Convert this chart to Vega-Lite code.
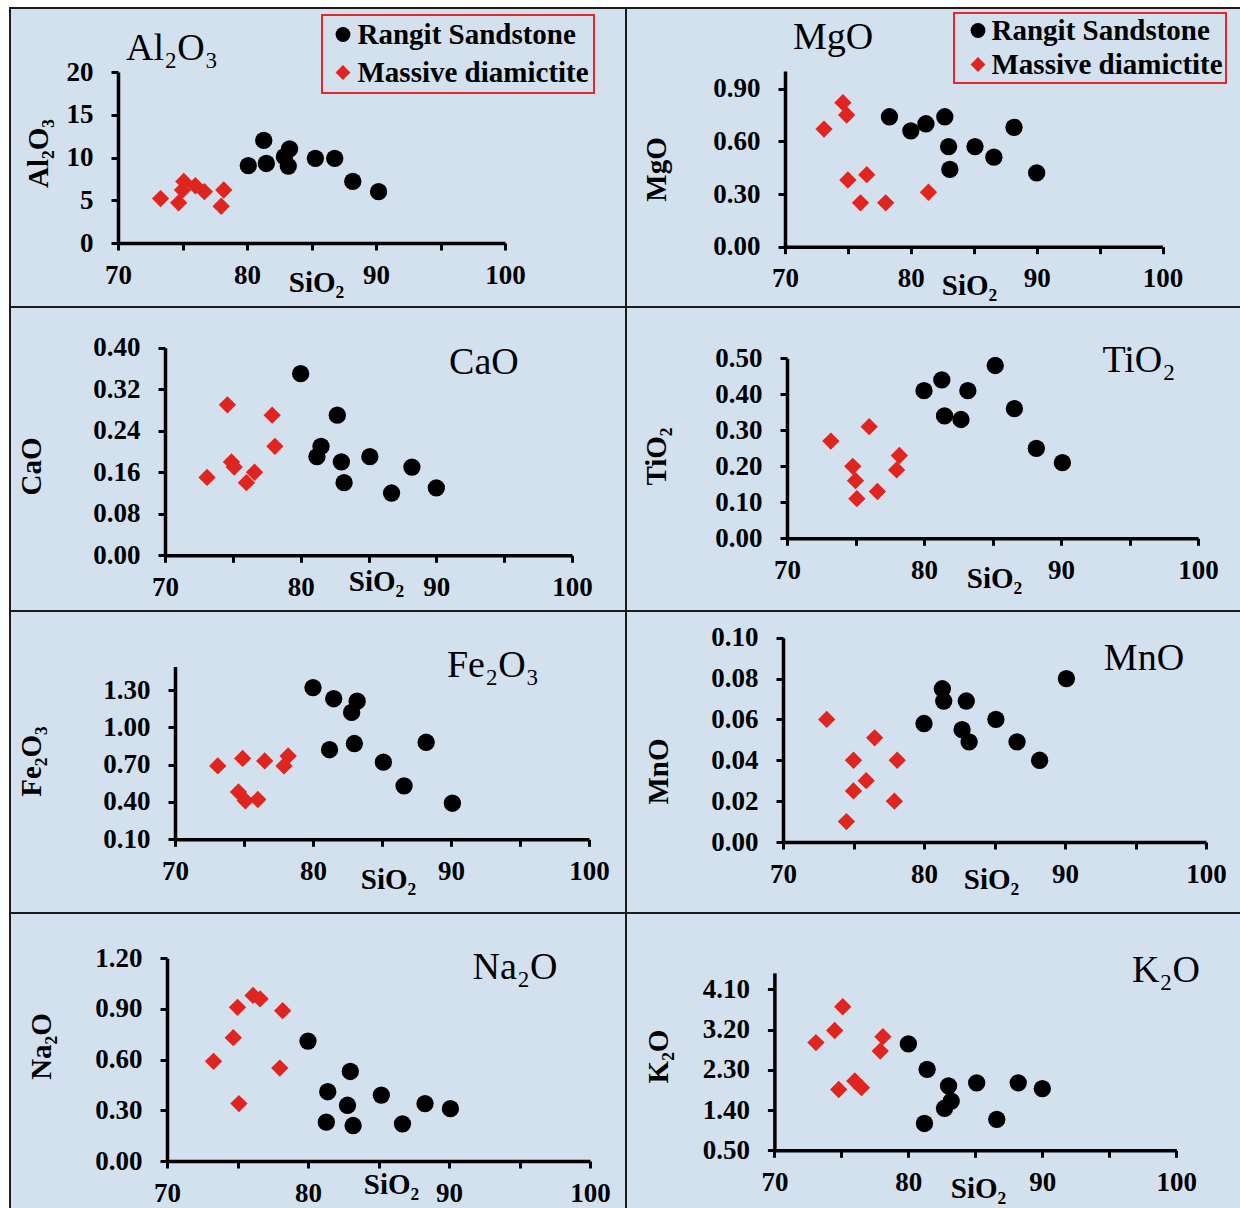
{
  "$schema": "https://vega.github.io/schema/vega-lite/v6.json",
  "background": "white",
  "padding": {"left": 9, "top": 7, "right": 0, "bottom": 0},
  "columns": 2,
  "spacing": 0,
  "bounds": "flush",
  "align": "each",
  "datasets": {
    "geo": [
      {"oxide": "Al2O3", "rock": "Rangit Sandstone", "SiO2": 80.1, "value": 9.05},
      {"oxide": "Al2O3", "rock": "Rangit Sandstone", "SiO2": 81.3, "value": 12.0},
      {"oxide": "Al2O3", "rock": "Rangit Sandstone", "SiO2": 81.5, "value": 9.3},
      {"oxide": "Al2O3", "rock": "Rangit Sandstone", "SiO2": 82.9, "value": 10.1},
      {"oxide": "Al2O3", "rock": "Rangit Sandstone", "SiO2": 83.3, "value": 11.0},
      {"oxide": "Al2O3", "rock": "Rangit Sandstone", "SiO2": 83.2, "value": 9.0},
      {"oxide": "Al2O3", "rock": "Rangit Sandstone", "SiO2": 85.3, "value": 9.9},
      {"oxide": "Al2O3", "rock": "Rangit Sandstone", "SiO2": 86.8, "value": 9.9},
      {"oxide": "Al2O3", "rock": "Rangit Sandstone", "SiO2": 88.2, "value": 7.2},
      {"oxide": "Al2O3", "rock": "Rangit Sandstone", "SiO2": 90.2, "value": 6.0},
      {"oxide": "Al2O3", "rock": "Massive diamictite", "SiO2": 73.3, "value": 5.2},
      {"oxide": "Al2O3", "rock": "Massive diamictite", "SiO2": 74.7, "value": 4.7},
      {"oxide": "Al2O3", "rock": "Massive diamictite", "SiO2": 75.0, "value": 6.2},
      {"oxide": "Al2O3", "rock": "Massive diamictite", "SiO2": 75.1, "value": 7.2},
      {"oxide": "Al2O3", "rock": "Massive diamictite", "SiO2": 76.0, "value": 6.7},
      {"oxide": "Al2O3", "rock": "Massive diamictite", "SiO2": 76.7, "value": 6.0},
      {"oxide": "Al2O3", "rock": "Massive diamictite", "SiO2": 78.0, "value": 4.3},
      {"oxide": "Al2O3", "rock": "Massive diamictite", "SiO2": 78.2, "value": 6.2},

      {"oxide": "MgO", "rock": "Rangit Sandstone", "SiO2": 78.3, "value": 0.74},
      {"oxide": "MgO", "rock": "Rangit Sandstone", "SiO2": 80.0, "value": 0.66},
      {"oxide": "MgO", "rock": "Rangit Sandstone", "SiO2": 81.2, "value": 0.70},
      {"oxide": "MgO", "rock": "Rangit Sandstone", "SiO2": 82.7, "value": 0.74},
      {"oxide": "MgO", "rock": "Rangit Sandstone", "SiO2": 83.0, "value": 0.57},
      {"oxide": "MgO", "rock": "Rangit Sandstone", "SiO2": 83.1, "value": 0.44},
      {"oxide": "MgO", "rock": "Rangit Sandstone", "SiO2": 85.1, "value": 0.57},
      {"oxide": "MgO", "rock": "Rangit Sandstone", "SiO2": 86.6, "value": 0.51},
      {"oxide": "MgO", "rock": "Rangit Sandstone", "SiO2": 88.2, "value": 0.68},
      {"oxide": "MgO", "rock": "Rangit Sandstone", "SiO2": 90.0, "value": 0.42},
      {"oxide": "MgO", "rock": "Massive diamictite", "SiO2": 73.1, "value": 0.67},
      {"oxide": "MgO", "rock": "Massive diamictite", "SiO2": 74.6, "value": 0.82},
      {"oxide": "MgO", "rock": "Massive diamictite", "SiO2": 74.9, "value": 0.75},
      {"oxide": "MgO", "rock": "Massive diamictite", "SiO2": 75.0, "value": 0.38},
      {"oxide": "MgO", "rock": "Massive diamictite", "SiO2": 76.0, "value": 0.25},
      {"oxide": "MgO", "rock": "Massive diamictite", "SiO2": 76.5, "value": 0.41},
      {"oxide": "MgO", "rock": "Massive diamictite", "SiO2": 78.0, "value": 0.25},
      {"oxide": "MgO", "rock": "Massive diamictite", "SiO2": 81.4, "value": 0.31},

      {"oxide": "CaO", "rock": "Rangit Sandstone", "SiO2": 80.0, "value": 0.35},
      {"oxide": "CaO", "rock": "Rangit Sandstone", "SiO2": 81.5, "value": 0.21},
      {"oxide": "CaO", "rock": "Rangit Sandstone", "SiO2": 81.2, "value": 0.19},
      {"oxide": "CaO", "rock": "Rangit Sandstone", "SiO2": 82.7, "value": 0.27},
      {"oxide": "CaO", "rock": "Rangit Sandstone", "SiO2": 83.0, "value": 0.18},
      {"oxide": "CaO", "rock": "Rangit Sandstone", "SiO2": 83.2, "value": 0.14},
      {"oxide": "CaO", "rock": "Rangit Sandstone", "SiO2": 85.1, "value": 0.19},
      {"oxide": "CaO", "rock": "Rangit Sandstone", "SiO2": 86.7, "value": 0.12},
      {"oxide": "CaO", "rock": "Rangit Sandstone", "SiO2": 88.2, "value": 0.17},
      {"oxide": "CaO", "rock": "Rangit Sandstone", "SiO2": 90.0, "value": 0.13},
      {"oxide": "CaO", "rock": "Massive diamictite", "SiO2": 73.1, "value": 0.15},
      {"oxide": "CaO", "rock": "Massive diamictite", "SiO2": 74.6, "value": 0.29},
      {"oxide": "CaO", "rock": "Massive diamictite", "SiO2": 74.9, "value": 0.18},
      {"oxide": "CaO", "rock": "Massive diamictite", "SiO2": 75.1, "value": 0.17},
      {"oxide": "CaO", "rock": "Massive diamictite", "SiO2": 76.0, "value": 0.14},
      {"oxide": "CaO", "rock": "Massive diamictite", "SiO2": 76.6, "value": 0.16},
      {"oxide": "CaO", "rock": "Massive diamictite", "SiO2": 77.9, "value": 0.27},
      {"oxide": "CaO", "rock": "Massive diamictite", "SiO2": 78.1, "value": 0.21},

      {"oxide": "TiO2", "rock": "Rangit Sandstone", "SiO2": 80.0, "value": 0.41},
      {"oxide": "TiO2", "rock": "Rangit Sandstone", "SiO2": 81.3, "value": 0.44},
      {"oxide": "TiO2", "rock": "Rangit Sandstone", "SiO2": 81.5, "value": 0.34},
      {"oxide": "TiO2", "rock": "Rangit Sandstone", "SiO2": 82.7, "value": 0.33},
      {"oxide": "TiO2", "rock": "Rangit Sandstone", "SiO2": 83.2, "value": 0.41},
      {"oxide": "TiO2", "rock": "Rangit Sandstone", "SiO2": 85.2, "value": 0.48},
      {"oxide": "TiO2", "rock": "Rangit Sandstone", "SiO2": 86.6, "value": 0.36},
      {"oxide": "TiO2", "rock": "Rangit Sandstone", "SiO2": 88.2, "value": 0.25},
      {"oxide": "TiO2", "rock": "Rangit Sandstone", "SiO2": 90.1, "value": 0.21},
      {"oxide": "TiO2", "rock": "Massive diamictite", "SiO2": 73.2, "value": 0.27},
      {"oxide": "TiO2", "rock": "Massive diamictite", "SiO2": 74.8, "value": 0.20},
      {"oxide": "TiO2", "rock": "Massive diamictite", "SiO2": 75.0, "value": 0.16},
      {"oxide": "TiO2", "rock": "Massive diamictite", "SiO2": 75.1, "value": 0.11},
      {"oxide": "TiO2", "rock": "Massive diamictite", "SiO2": 76.0, "value": 0.31},
      {"oxide": "TiO2", "rock": "Massive diamictite", "SiO2": 76.6, "value": 0.13},
      {"oxide": "TiO2", "rock": "Massive diamictite", "SiO2": 78.0, "value": 0.19},
      {"oxide": "TiO2", "rock": "Massive diamictite", "SiO2": 78.2, "value": 0.23},

      {"oxide": "Fe2O3", "rock": "Rangit Sandstone", "SiO2": 80.0, "value": 1.32},
      {"oxide": "Fe2O3", "rock": "Rangit Sandstone", "SiO2": 81.5, "value": 1.23},
      {"oxide": "Fe2O3", "rock": "Rangit Sandstone", "SiO2": 83.2, "value": 1.21},
      {"oxide": "Fe2O3", "rock": "Rangit Sandstone", "SiO2": 82.8, "value": 1.12},
      {"oxide": "Fe2O3", "rock": "Rangit Sandstone", "SiO2": 81.2, "value": 0.82},
      {"oxide": "Fe2O3", "rock": "Rangit Sandstone", "SiO2": 83.0, "value": 0.87},
      {"oxide": "Fe2O3", "rock": "Rangit Sandstone", "SiO2": 85.1, "value": 0.72},
      {"oxide": "Fe2O3", "rock": "Rangit Sandstone", "SiO2": 86.6, "value": 0.53},
      {"oxide": "Fe2O3", "rock": "Rangit Sandstone", "SiO2": 88.2, "value": 0.88},
      {"oxide": "Fe2O3", "rock": "Rangit Sandstone", "SiO2": 90.1, "value": 0.39},
      {"oxide": "Fe2O3", "rock": "Massive diamictite", "SiO2": 73.1, "value": 0.69},
      {"oxide": "Fe2O3", "rock": "Massive diamictite", "SiO2": 74.9, "value": 0.75},
      {"oxide": "Fe2O3", "rock": "Massive diamictite", "SiO2": 76.5, "value": 0.73},
      {"oxide": "Fe2O3", "rock": "Massive diamictite", "SiO2": 77.9, "value": 0.69},
      {"oxide": "Fe2O3", "rock": "Massive diamictite", "SiO2": 78.2, "value": 0.77},
      {"oxide": "Fe2O3", "rock": "Massive diamictite", "SiO2": 74.6, "value": 0.48},
      {"oxide": "Fe2O3", "rock": "Massive diamictite", "SiO2": 75.1, "value": 0.41},
      {"oxide": "Fe2O3", "rock": "Massive diamictite", "SiO2": 76.0, "value": 0.42},

      {"oxide": "MnO", "rock": "Rangit Sandstone", "SiO2": 80.0, "value": 0.058},
      {"oxide": "MnO", "rock": "Rangit Sandstone", "SiO2": 81.3, "value": 0.075},
      {"oxide": "MnO", "rock": "Rangit Sandstone", "SiO2": 81.4, "value": 0.069},
      {"oxide": "MnO", "rock": "Rangit Sandstone", "SiO2": 82.7, "value": 0.055},
      {"oxide": "MnO", "rock": "Rangit Sandstone", "SiO2": 83.2, "value": 0.049},
      {"oxide": "MnO", "rock": "Rangit Sandstone", "SiO2": 83.0, "value": 0.069},
      {"oxide": "MnO", "rock": "Rangit Sandstone", "SiO2": 85.1, "value": 0.060},
      {"oxide": "MnO", "rock": "Rangit Sandstone", "SiO2": 86.6, "value": 0.049},
      {"oxide": "MnO", "rock": "Rangit Sandstone", "SiO2": 88.2, "value": 0.040},
      {"oxide": "MnO", "rock": "Rangit Sandstone", "SiO2": 90.1, "value": 0.080},
      {"oxide": "MnO", "rock": "Massive diamictite", "SiO2": 73.1, "value": 0.060},
      {"oxide": "MnO", "rock": "Massive diamictite", "SiO2": 74.5, "value": 0.010},
      {"oxide": "MnO", "rock": "Massive diamictite", "SiO2": 75.0, "value": 0.025},
      {"oxide": "MnO", "rock": "Massive diamictite", "SiO2": 75.0, "value": 0.040},
      {"oxide": "MnO", "rock": "Massive diamictite", "SiO2": 75.9, "value": 0.030},
      {"oxide": "MnO", "rock": "Massive diamictite", "SiO2": 76.5, "value": 0.051},
      {"oxide": "MnO", "rock": "Massive diamictite", "SiO2": 77.9, "value": 0.020},
      {"oxide": "MnO", "rock": "Massive diamictite", "SiO2": 78.1, "value": 0.040},

      {"oxide": "Na2O", "rock": "Rangit Sandstone", "SiO2": 80.0, "value": 0.71},
      {"oxide": "Na2O", "rock": "Rangit Sandstone", "SiO2": 81.4, "value": 0.41},
      {"oxide": "Na2O", "rock": "Rangit Sandstone", "SiO2": 81.3, "value": 0.23},
      {"oxide": "Na2O", "rock": "Rangit Sandstone", "SiO2": 83.0, "value": 0.53},
      {"oxide": "Na2O", "rock": "Rangit Sandstone", "SiO2": 82.8, "value": 0.33},
      {"oxide": "Na2O", "rock": "Rangit Sandstone", "SiO2": 83.2, "value": 0.21},
      {"oxide": "Na2O", "rock": "Rangit Sandstone", "SiO2": 85.2, "value": 0.39},
      {"oxide": "Na2O", "rock": "Rangit Sandstone", "SiO2": 86.7, "value": 0.22},
      {"oxide": "Na2O", "rock": "Rangit Sandstone", "SiO2": 88.3, "value": 0.34},
      {"oxide": "Na2O", "rock": "Rangit Sandstone", "SiO2": 90.1, "value": 0.31},
      {"oxide": "Na2O", "rock": "Massive diamictite", "SiO2": 73.3, "value": 0.59},
      {"oxide": "Na2O", "rock": "Massive diamictite", "SiO2": 74.7, "value": 0.73},
      {"oxide": "Na2O", "rock": "Massive diamictite", "SiO2": 75.0, "value": 0.91},
      {"oxide": "Na2O", "rock": "Massive diamictite", "SiO2": 75.1, "value": 0.34},
      {"oxide": "Na2O", "rock": "Massive diamictite", "SiO2": 76.1, "value": 0.98},
      {"oxide": "Na2O", "rock": "Massive diamictite", "SiO2": 76.6, "value": 0.96},
      {"oxide": "Na2O", "rock": "Massive diamictite", "SiO2": 78.2, "value": 0.89},
      {"oxide": "Na2O", "rock": "Massive diamictite", "SiO2": 78.0, "value": 0.55},

      {"oxide": "K2O", "rock": "Rangit Sandstone", "SiO2": 80.0, "value": 2.88},
      {"oxide": "K2O", "rock": "Rangit Sandstone", "SiO2": 81.4, "value": 2.31},
      {"oxide": "K2O", "rock": "Rangit Sandstone", "SiO2": 81.2, "value": 1.10},
      {"oxide": "K2O", "rock": "Rangit Sandstone", "SiO2": 83.0, "value": 1.94},
      {"oxide": "K2O", "rock": "Rangit Sandstone", "SiO2": 83.2, "value": 1.60},
      {"oxide": "K2O", "rock": "Rangit Sandstone", "SiO2": 82.7, "value": 1.44},
      {"oxide": "K2O", "rock": "Rangit Sandstone", "SiO2": 85.1, "value": 2.01},
      {"oxide": "K2O", "rock": "Rangit Sandstone", "SiO2": 86.6, "value": 1.19},
      {"oxide": "K2O", "rock": "Rangit Sandstone", "SiO2": 88.2, "value": 2.01},
      {"oxide": "K2O", "rock": "Rangit Sandstone", "SiO2": 90.0, "value": 1.88},
      {"oxide": "K2O", "rock": "Massive diamictite", "SiO2": 73.1, "value": 2.91},
      {"oxide": "K2O", "rock": "Massive diamictite", "SiO2": 74.5, "value": 3.18},
      {"oxide": "K2O", "rock": "Massive diamictite", "SiO2": 75.1, "value": 3.71},
      {"oxide": "K2O", "rock": "Massive diamictite", "SiO2": 74.8, "value": 1.86},
      {"oxide": "K2O", "rock": "Massive diamictite", "SiO2": 76.0, "value": 2.05},
      {"oxide": "K2O", "rock": "Massive diamictite", "SiO2": 76.5, "value": 1.90},
      {"oxide": "K2O", "rock": "Massive diamictite", "SiO2": 77.9, "value": 2.72},
      {"oxide": "K2O", "rock": "Massive diamictite", "SiO2": 78.1, "value": 3.04}
    ]
  },
  "resolve": {
    "scale": {"x": "independent", "y": "independent", "color": "independent", "shape": "independent"},
    "legend": {"color": "independent", "shape": "independent"}
  },
  "concat": [
    {
      "width": 616, "height": 299,
      "layer": [
        {
          "data": {"name": "geo"},
          "transform": [{"filter": "datum.oxide === 'Al2O3'"}],
          "mark": {"type": "point", "filled": true, "opacity": 1, "size": 300},
          "encoding": {
            "x": {"field": "SiO2", "type": "quantitative", "scale": {"domain": [70, 100], "range": [108, 495], "nice": false, "zero": false},
                  "axis": {"values": [70, 75, 80, 85, 90, 95, 100], "labelExpr": "datum.value % 10 === 0 ? datum.label : ''", "offset": -64, "title": "SiO₂", "titleX": 306, "titleY": 39}},
            "y": {"field": "value", "type": "quantitative", "scale": {"domain": [0, 20], "range": [235, 64], "nice": false, "zero": false},
                  "axis": {"values": [0, 5, 10, 15, 20], "format": "d", "offset": -108, "title": "Al₂O₃", "titleX": -80, "titleY": 145}},
            "color": {"field": "rock", "type": "nominal", "scale": {"domain": ["Rangit Sandstone", "Massive diamictite"], "range": ["#000000", "#e0241f"]},
                      "legend": {"title": null, "orient": "none", "legendX": 312, "legendY": 7, "padding": 5, "rowPadding": 8, "symbolOffset": 1.5, "labelOffset": 0}},
            "shape": {"field": "rock", "type": "nominal", "scale": {"domain": ["Rangit Sandstone", "Massive diamictite"], "range": ["circle", "diamond"]},
                      "legend": {"title": null, "orient": "none", "legendX": 312, "legendY": 7, "padding": 5, "rowPadding": 8, "symbolOffset": 1.5, "labelOffset": 0}}
          }
        },
        {
          "data": {"values": [{}]},
          "mark": {"type": "text", "text": "Al₂O₃", "font": "Liberation Serif", "fontSize": 38, "color": "#000", "align": "center", "baseline": "middle"},
          "encoding": {
            "x": {"datum": 74.19, "type": "quantitative"},
            "y": {"datum": 22.69, "type": "quantitative"}
          }
        }
      ]
    },
    {
      "width": 615, "height": 299,
      "layer": [
        {
          "data": {"name": "geo"},
          "transform": [{"filter": "datum.oxide === 'MgO'"}],
          "mark": {"type": "point", "filled": true, "opacity": 1, "size": 300},
          "encoding": {
            "x": {"field": "SiO2", "type": "quantitative", "scale": {"domain": [70, 100], "range": [159, 536.5], "nice": false, "zero": false},
                  "axis": {"values": [70, 75, 80, 85, 90, 95, 100], "labelExpr": "datum.value % 10 === 0 ? datum.label : ''", "offset": -60.3, "title": "SiO₂", "titleX": 343, "titleY": 39}},
            "y": {"field": "value", "type": "quantitative", "scale": {"domain": [0, 1.0], "range": [238.7, 63.1], "nice": false, "zero": false},
                  "axis": {"values": [0, 0.3, 0.6, 0.9], "format": ".2f", "offset": -159, "title": "MgO", "titleX": -129, "titleY": 161}},
            "color": {"field": "rock", "type": "nominal", "scale": {"domain": ["Rangit Sandstone", "Massive diamictite"], "range": ["#000000", "#e0241f"]},
                      "legend": {"title": null, "orient": "none", "legendX": 328, "legendY": 5, "padding": 3, "rowPadding": 4, "symbolOffset": 6.5, "labelOffset": -1}},
            "shape": {"field": "rock", "type": "nominal", "scale": {"domain": ["Rangit Sandstone", "Massive diamictite"], "range": ["circle", "diamond"]},
                      "legend": {"title": null, "orient": "none", "legendX": 328, "legendY": 5, "padding": 3, "rowPadding": 4, "symbolOffset": 6.5, "labelOffset": -1}}
          }
        },
        {
          "data": {"values": [{}]},
          "mark": {"type": "text", "text": "MgO", "font": "Liberation Serif", "fontSize": 38, "color": "#000", "align": "center", "baseline": "middle"},
          "encoding": {
            "x": {"datum": 73.815, "type": "quantitative"},
            "y": {"datum": 1.189, "type": "quantitative"}
          }
        }
      ]
    },
    {
      "width": 616, "height": 304,
      "layer": [
        {
          "data": {"name": "geo"},
          "transform": [{"filter": "datum.oxide === 'CaO'"}],
          "mark": {"type": "point", "filled": true, "opacity": 1, "size": 300},
          "encoding": {
            "x": {"field": "SiO2", "type": "quantitative", "scale": {"domain": [70, 100], "range": [155, 562], "nice": false, "zero": false},
                  "axis": {"values": [70, 75, 80, 85, 90, 95, 100], "labelExpr": "datum.value % 10 === 0 ? datum.label : ''", "offset": -55.7, "title": "SiO₂", "titleX": 366, "titleY": 26}},
            "y": {"field": "value", "type": "quantitative", "scale": {"domain": [0, 0.4], "range": [248.3, 40.7], "nice": false, "zero": false},
                  "axis": {"values": [0, 0.08, 0.16, 0.24, 0.32, 0.4], "format": ".2f", "offset": -155, "title": "CaO", "titleX": -134, "titleY": 159}},
            "color": {"field": "rock", "type": "nominal", "scale": {"domain": ["Rangit Sandstone", "Massive diamictite"], "range": ["#000000", "#e0241f"]}, "legend": null},
            "shape": {"field": "rock", "type": "nominal", "scale": {"domain": ["Rangit Sandstone", "Massive diamictite"], "range": ["circle", "diamond"]}, "legend": null}
          }
        },
        {
          "data": {"values": [{}]},
          "mark": {"type": "text", "text": "CaO", "font": "Liberation Serif", "fontSize": 38, "color": "#000", "align": "center", "baseline": "middle"},
          "encoding": {
            "x": {"datum": 93.51, "type": "quantitative"},
            "y": {"datum": 0.3705, "type": "quantitative"}
          }
        }
      ]
    },
    {
      "width": 615, "height": 304,
      "layer": [
        {
          "data": {"name": "geo"},
          "transform": [{"filter": "datum.oxide === 'TiO2'"}],
          "mark": {"type": "point", "filled": true, "opacity": 1, "size": 300},
          "encoding": {
            "x": {"field": "SiO2", "type": "quantitative", "scale": {"domain": [70, 100], "range": [161, 572], "nice": false, "zero": false},
                  "axis": {"values": [70, 75, 80, 85, 90, 95, 100], "labelExpr": "datum.value % 10 === 0 ? datum.label : ''", "offset": -72.7, "title": "SiO₂", "titleX": 368, "titleY": 40}},
            "y": {"field": "value", "type": "quantitative", "scale": {"domain": [0, 0.5], "range": [231.3, 51.3], "nice": false, "zero": false},
                  "axis": {"values": [0, 0.1, 0.2, 0.3, 0.4, 0.5], "format": ".2f", "offset": -161, "title": "TiO₂", "titleX": -131, "titleY": 149}},
            "color": {"field": "rock", "type": "nominal", "scale": {"domain": ["Rangit Sandstone", "Massive diamictite"], "range": ["#000000", "#e0241f"]}, "legend": null},
            "shape": {"field": "rock", "type": "nominal", "scale": {"domain": ["Rangit Sandstone", "Massive diamictite"], "range": ["circle", "diamond"]}, "legend": null}
          }
        },
        {
          "data": {"values": [{}]},
          "mark": {"type": "text", "text": "TiO₂", "font": "Liberation Serif", "fontSize": 38, "color": "#000", "align": "center", "baseline": "middle"},
          "encoding": {
            "x": {"datum": 95.69, "type": "quantitative"},
            "y": {"datum": 0.4925, "type": "quantitative"}
          }
        }
      ]
    },
    {
      "width": 616, "height": 302,
      "layer": [
        {
          "data": {"name": "geo"},
          "transform": [{"filter": "datum.oxide === 'Fe2O3'"}],
          "mark": {"type": "point", "filled": true, "opacity": 1, "size": 300},
          "encoding": {
            "x": {"field": "SiO2", "type": "quantitative", "scale": {"domain": [70, 100], "range": [165, 579], "nice": false, "zero": false},
                  "axis": {"values": [70, 75, 80, 85, 90, 95, 100], "labelExpr": "datum.value % 10 === 0 ? datum.label : ''", "offset": -73.7, "title": "SiO₂", "titleX": 378, "titleY": 40}},
            "y": {"field": "value", "type": "quantitative", "scale": {"domain": [0.1, 1.49], "range": [228.3, 55.4], "nice": false, "zero": false},
                  "axis": {"values": [0.1, 0.4, 0.7, 1.0, 1.3], "format": ".2f", "offset": -165, "title": "Fe₂O₃", "titleX": -144, "titleY": 150}},
            "color": {"field": "rock", "type": "nominal", "scale": {"domain": ["Rangit Sandstone", "Massive diamictite"], "range": ["#000000", "#e0241f"]}, "legend": null},
            "shape": {"field": "rock", "type": "nominal", "scale": {"domain": ["Rangit Sandstone", "Massive diamictite"], "range": ["circle", "diamond"]}, "legend": null}
          }
        },
        {
          "data": {"values": [{}]},
          "mark": {"type": "text", "text": "Fe₂O₃", "font": "Liberation Serif", "fontSize": 38, "color": "#000", "align": "center", "baseline": "middle"},
          "encoding": {
            "x": {"datum": 93.04, "type": "quantitative"},
            "y": {"datum": 1.493, "type": "quantitative"}
          }
        }
      ]
    },
    {
      "width": 615, "height": 302,
      "layer": [
        {
          "data": {"name": "geo"},
          "transform": [{"filter": "datum.oxide === 'MnO'"}],
          "mark": {"type": "point", "filled": true, "opacity": 1, "size": 300},
          "encoding": {
            "x": {"field": "SiO2", "type": "quantitative", "scale": {"domain": [70, 100], "range": [157, 580], "nice": false, "zero": false},
                  "axis": {"values": [70, 75, 80, 85, 90, 95, 100], "labelExpr": "datum.value % 10 === 0 ? datum.label : ''", "offset": -71, "title": "SiO₂", "titleX": 365, "titleY": 37}},
            "y": {"field": "value", "type": "quantitative", "scale": {"domain": [0, 0.1], "range": [231, 26.7], "nice": false, "zero": false},
                  "axis": {"values": [0, 0.02, 0.04, 0.06, 0.08, 0.1], "format": ".2f", "offset": -157, "title": "MnO", "titleX": -125, "titleY": 160}},
            "color": {"field": "rock", "type": "nominal", "scale": {"domain": ["Rangit Sandstone", "Massive diamictite"], "range": ["#000000", "#e0241f"]}, "legend": null},
            "shape": {"field": "rock", "type": "nominal", "scale": {"domain": ["Rangit Sandstone", "Massive diamictite"], "range": ["circle", "diamond"]}, "legend": null}
          }
        },
        {
          "data": {"values": [{}]},
          "mark": {"type": "text", "text": "MnO", "font": "Liberation Serif", "fontSize": 38, "color": "#000", "align": "center", "baseline": "middle"},
          "encoding": {
            "x": {"datum": 95.6, "type": "quantitative"},
            "y": {"datum": 0.0896, "type": "quantitative"}
          }
        }
      ]
    },
    {
      "width": 616, "height": 300,
      "layer": [
        {
          "data": {"name": "geo"},
          "transform": [{"filter": "datum.oxide === 'Na2O'"}],
          "mark": {"type": "point", "filled": true, "opacity": 1, "size": 300},
          "encoding": {
            "x": {"field": "SiO2", "type": "quantitative", "scale": {"domain": [70, 100], "range": [157, 580], "nice": false, "zero": false},
                  "axis": {"values": [70, 75, 80, 85, 90, 95, 100], "labelExpr": "datum.value % 10 === 0 ? datum.label : ''", "offset": -52, "title": "SiO₂", "titleX": 381, "titleY": 23}},
            "y": {"field": "value", "type": "quantitative", "scale": {"domain": [0, 1.2], "range": [248, 45.3], "nice": false, "zero": false},
                  "axis": {"values": [0, 0.3, 0.6, 0.9, 1.2], "format": ".2f", "offset": -157, "title": "Na₂O", "titleX": -126, "titleY": 133}},
            "color": {"field": "rock", "type": "nominal", "scale": {"domain": ["Rangit Sandstone", "Massive diamictite"], "range": ["#000000", "#e0241f"]}, "legend": null},
            "shape": {"field": "rock", "type": "nominal", "scale": {"domain": ["Rangit Sandstone", "Massive diamictite"], "range": ["circle", "diamond"]}, "legend": null}
          }
        },
        {
          "data": {"values": [{}]},
          "mark": {"type": "text", "text": "Na₂O", "font": "Liberation Serif", "fontSize": 38, "color": "#000", "align": "center", "baseline": "middle"},
          "encoding": {
            "x": {"datum": 94.68, "type": "quantitative"},
            "y": {"datum": 1.1426, "type": "quantitative"}
          }
        }
      ]
    },
    {
      "width": 615, "height": 300,
      "layer": [
        {
          "data": {"name": "geo"},
          "transform": [{"filter": "datum.oxide === 'K2O'"}],
          "mark": {"type": "point", "filled": true, "opacity": 1, "size": 300},
          "encoding": {
            "x": {"field": "SiO2", "type": "quantitative", "scale": {"domain": [70, 100], "range": [148.4, 550.3], "nice": false, "zero": false},
                  "axis": {"values": [70, 75, 80, 85, 90, 95, 100], "labelExpr": "datum.value % 10 === 0 ? datum.label : ''", "offset": -62.7, "title": "SiO₂", "titleX": 352, "titleY": 38}},
            "y": {"field": "value", "type": "quantitative", "scale": {"domain": [0.5, 4.47], "range": [237.3, 59.8], "nice": false, "zero": false},
                  "axis": {"values": [0.5, 1.4, 2.3, 3.2, 4.1], "format": ".2f", "offset": -148.4, "title": "K₂O", "titleX": -116, "titleY": 143}},
            "color": {"field": "rock", "type": "nominal", "scale": {"domain": ["Rangit Sandstone", "Massive diamictite"], "range": ["#000000", "#e0241f"]}, "legend": null},
            "shape": {"field": "rock", "type": "nominal", "scale": {"domain": ["Rangit Sandstone", "Massive diamictite"], "range": ["circle", "diamond"]}, "legend": null}
          }
        },
        {
          "data": {"values": [{}]},
          "mark": {"type": "text", "text": "K₂O", "font": "Liberation Serif", "fontSize": 38, "color": "#000", "align": "center", "baseline": "middle"},
          "encoding": {
            "x": {"datum": 99.23, "type": "quantitative"},
            "y": {"datum": 4.509, "type": "quantitative"}
          }
        }
      ]
    }
  ],
  "config": {
    "view": {"stroke": "#1c1c1c", "strokeWidth": 2, "fill": "#d3e1ee"},
    "axis": {
      "domain": true, "domainColor": "#000000", "domainWidth": 3.5,
      "ticks": true, "tickColor": "#000000", "tickWidth": 3, "tickSize": 7,
      "grid": false,
      "labelFont": "Liberation Serif", "labelFontWeight": "bold", "labelFontSize": 27, "labelColor": "#000000", "labelPadding": 12,
      "labelOverlap": false, "labelFlush": false,
      "titleFont": "Liberation Serif", "titleFontWeight": "bold", "titleFontSize": 29, "titleColor": "#000000",
      "titleBaseline": "middle", "titleAlign": "center"
    },
    "axisY": {"labelPadding": 18},
    "legend": {
      "strokeColor": "#e8262a", "strokeWidth": 2, "fillColor": "#d3e1ee",
      "labelFont": "Liberation Serif", "labelFontWeight": "bold", "labelFontSize": 29, "labelColor": "#000000", "labelLimit": 400,
      "symbolSize": 220, "symbolStrokeWidth": 0, "symbolType": "circle"
    }
  }
}
